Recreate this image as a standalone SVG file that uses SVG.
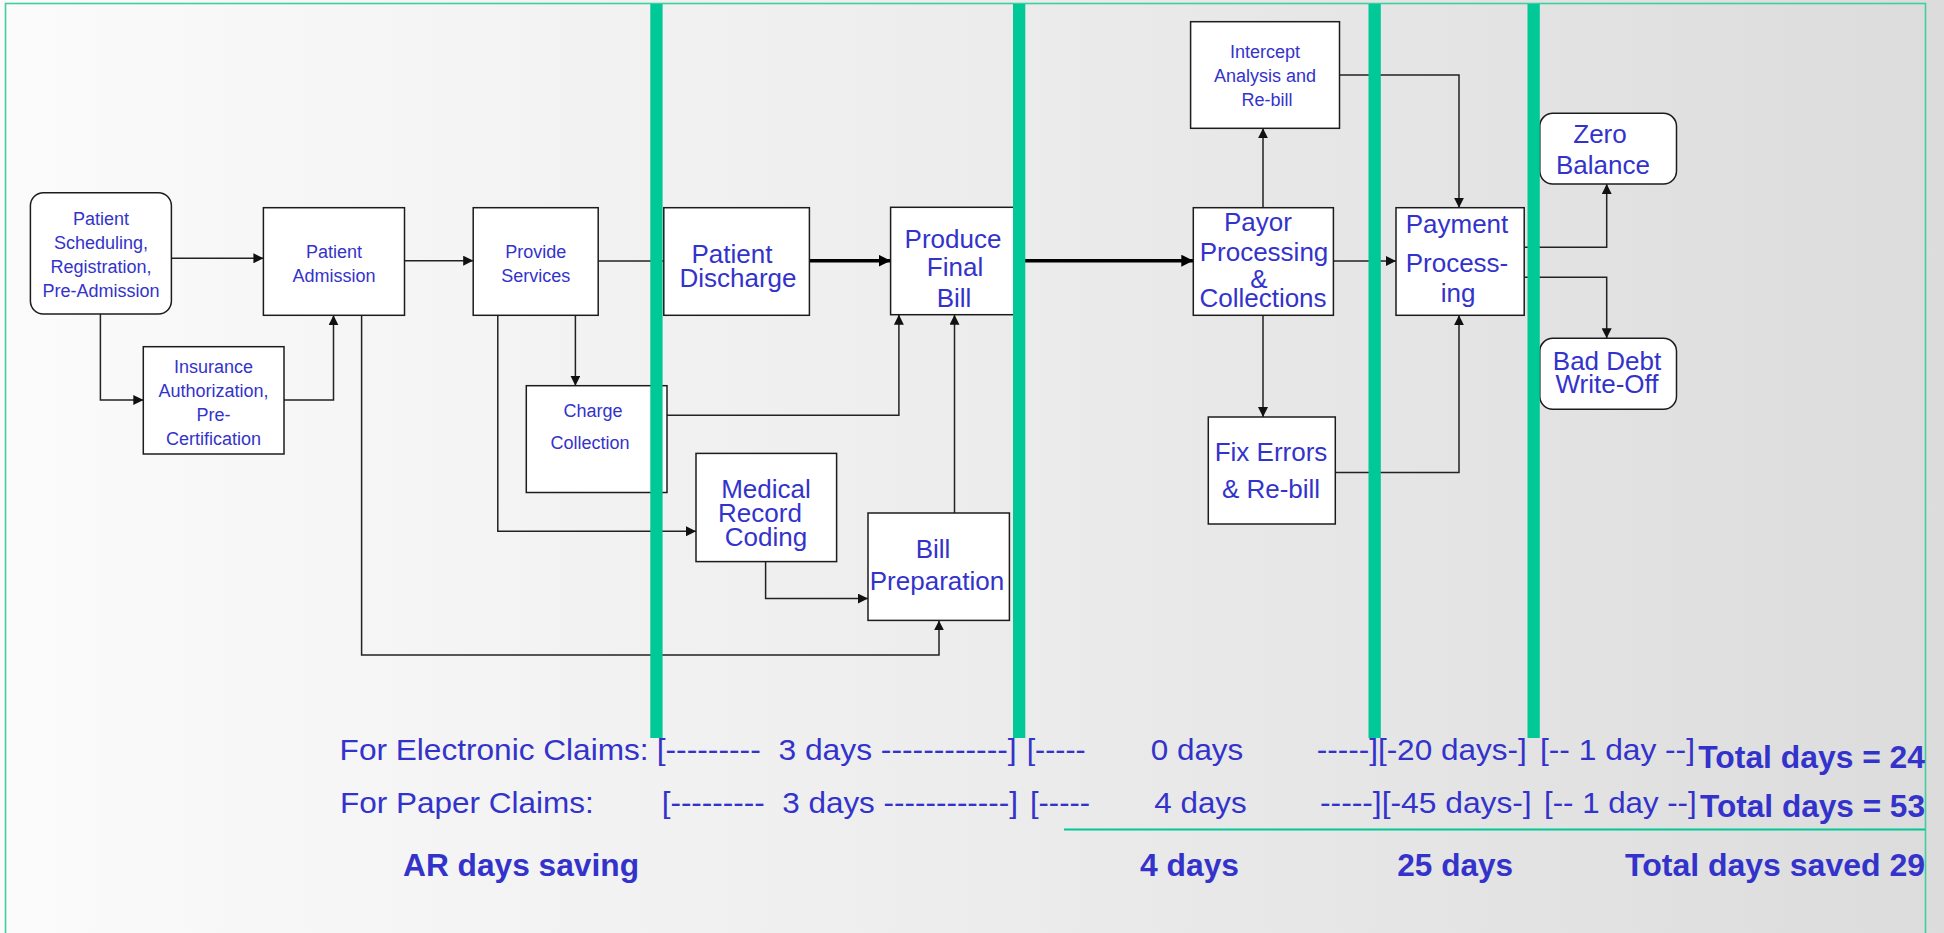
<svg xmlns="http://www.w3.org/2000/svg" width="1944" height="933" viewBox="0 0 1944 933">
  <defs>
    <linearGradient id="bg" x1="0" y1="0" x2="1" y2="0">
      <stop offset="0" stop-color="#fbfbfb"/>
      <stop offset="0.45" stop-color="#eeeeee"/>
      <stop offset="1" stop-color="#dcdcdc"/>
    </linearGradient>
    <marker id="arr" markerUnits="userSpaceOnUse" markerWidth="10" markerHeight="10" viewBox="0 0 9 9" refX="9" refY="4.5" orient="auto">
      <path d="M0,0 L9,4.5 L0,9 z" fill="#111"/>
    </marker>
    <marker id="arrBig" markerUnits="userSpaceOnUse" markerWidth="12" markerHeight="12" viewBox="0 0 11 11" refX="11" refY="5.5" orient="auto">
      <path d="M0,0 L11,5.5 L0,11 z" fill="#000"/>
    </marker>
  </defs>
  <style>
    .box { fill: #ffffff; stroke: #1c1c1c; stroke-width: 1.5; }
    .wire { fill: none; stroke: #222; stroke-width: 1.5; marker-end: url(#arr); }
    .thick { fill: none; stroke: #000; stroke-width: 3.5; marker-end: url(#arrBig); }
    .bar { fill: #00c896; }
    text { font-family: "Liberation Sans", Arial, sans-serif; fill: #3333cc; }
    .s { font-size: 18px; text-anchor: middle; }
    .l { font-size: 26px; text-anchor: middle; }
    .r { font-size: 30px; white-space: pre; }
    .b { font-size: 32px; font-weight: bold; white-space: pre; }
  </style>

  <!-- page background and frame -->
  <rect x="0" y="0" width="1944" height="933" fill="url(#bg)"/>
  <rect x="5.5" y="3.5" width="1920" height="940" fill="none" stroke="#3dcf9f" stroke-width="1.6"/>

  <!-- connectors -->
  <g id="connectors">
    <path class="wire" d="M171.4,258.3 H263.4"/>
    <path class="wire" d="M100.4,314 V400 H143.3"/>
    <path class="wire" d="M284,400 H333.5 V315.3"/>
    <path class="wire" d="M404.5,260.7 H473.2"/>
    <path class="wire" d="M598.2,261 H663.8"/>
    <path class="thick" d="M809.4,260.7 H890.6"/>
    <path class="thick" d="M1010,260.7 H1193.3"/>
    <path class="wire" d="M361.6,315.3 V655 H939 V620.4"/>
    <path class="wire" d="M497.8,315.3 V531.3 H696"/>
    <path class="wire" d="M575.4,315.3 V385.7"/>
    <path class="wire" d="M667,415.3 H898.9 V314.7"/>
    <path class="wire" d="M765.6,561.6 V598.6 H868"/>
    <path class="wire" d="M954.5,513 V314.7"/>
    <path class="wire" d="M1263,207.7 V128.3"/>
    <path class="wire" d="M1263,315.3 V417"/>
    <path class="wire" d="M1333.4,261 H1396"/>
    <path class="wire" d="M1339.5,75 H1459 V207.7"/>
    <path class="wire" d="M1335.3,472.4 H1459 V315.3"/>
    <path class="wire" d="M1524.2,247.3 H1606.7 V184"/>
    <path class="wire" d="M1524.2,277.3 H1606.7 V338.3"/>
  </g>

  <g id="patient-scheduling">
    <rect class="box" x="30.4" y="192.7" width="141" height="121.3" rx="13" ry="13"/>
    <text class="s" x="101" y="225">Patient</text>
    <text class="s" x="101" y="249">Scheduling,</text>
    <text class="s" x="101" y="273">Registration,</text>
    <text class="s" x="101" y="297">Pre-Admission</text>
  </g>

  <g id="patient-admission">
    <rect class="box" x="263.4" y="207.7" width="141.1" height="107.6"/>
    <text class="s" x="334" y="258">Patient</text>
    <text class="s" x="334" y="282">Admission</text>
  </g>

  <g id="insurance-authorization">
    <rect class="box" x="143.3" y="346.7" width="140.7" height="107.3"/>
    <text class="s" x="213.6" y="373">Insurance</text>
    <text class="s" x="213.6" y="397">Authorization,</text>
    <text class="s" x="213.6" y="421">Pre-</text>
    <text class="s" x="213.6" y="445">Certification</text>
  </g>

  <g id="provide-services">
    <rect class="box" x="473.2" y="207.7" width="125" height="107.6"/>
    <text class="s" x="535.7" y="258">Provide</text>
    <text class="s" x="535.7" y="282">Services</text>
  </g>

  <g id="charge-collection">
    <rect class="box" x="526.3" y="385.7" width="140.7" height="106.8"/>
    <text class="s" x="593" y="417">Charge</text>
    <text class="s" x="590" y="449">Collection</text>
  </g>

  <g id="medical-record-coding">
    <rect class="box" x="696" y="453.4" width="140.6" height="108.2"/>
    <text class="l" x="766" y="498">Medical</text>
    <text class="l" x="760" y="522">Record</text>
    <text class="l" x="766" y="546">Coding</text>
  </g>

  <g id="bill-preparation">
    <rect class="box" x="868" y="513" width="141.4" height="107.4"/>
    <text class="l" x="933" y="558">Bill</text>
    <text class="l" x="937" y="590">Preparation</text>
  </g>

  <g id="patient-discharge">
    <rect class="box" x="663.8" y="207.7" width="145.6" height="107.6"/>
    <text class="l" x="732" y="263">Patient</text>
    <text class="l" x="738" y="287">Discharge</text>
  </g>

  <g id="produce-final-bill">
    <rect class="box" x="890.6" y="207.3" width="125.4" height="107.4"/>
    <text class="l" x="953" y="248">Produce</text>
    <text class="l" x="955" y="276">Final</text>
    <text class="l" x="954" y="307">Bill</text>
  </g>

  <g id="intercept-analysis">
    <rect class="box" x="1190.6" y="21.7" width="148.9" height="106.6"/>
    <text class="s" x="1265" y="58">Intercept</text>
    <text class="s" x="1265" y="82">Analysis and</text>
    <text class="s" x="1267" y="106">Re-bill</text>
  </g>

  <g id="payor-processing">
    <rect class="box" x="1193.3" y="207.7" width="140.1" height="107.6"/>
    <text class="l" x="1258" y="231">Payor</text>
    <text class="l" x="1264" y="261">Processing</text>
    <text class="l" x="1259" y="288">&amp;</text>
    <text class="l" x="1263" y="307">Collections</text>
  </g>

  <g id="fix-errors">
    <rect class="box" x="1208.3" y="417" width="127" height="107"/>
    <text class="l" x="1271" y="461">Fix Errors</text>
    <text class="l" x="1271" y="498">&amp; Re-bill</text>
  </g>

  <g id="payment-processing">
    <rect class="box" x="1396" y="207.7" width="128.2" height="107.6"/>
    <text class="l" x="1457" y="233">Payment</text>
    <text class="l" x="1457" y="272">Process-</text>
    <text class="l" x="1458" y="302">ing</text>
  </g>

  <g id="zero-balance">
    <rect class="box" x="1539.8" y="113.3" width="136.7" height="70.7" rx="13" ry="13"/>
    <text class="l" x="1600" y="143">Zero</text>
    <text class="l" x="1603" y="174">Balance</text>
  </g>

  <g id="bad-debt">
    <rect class="box" x="1539.8" y="338.3" width="136.7" height="71" rx="13" ry="13"/>
    <text class="l" x="1607" y="370">Bad Debt</text>
    <text class="l" x="1607" y="393">Write-Off</text>
  </g>

  <!-- stage dividers -->
  <g id="dividers">
    <rect class="bar" x="650.3" y="4" width="12.3" height="734"/>
    <rect class="bar" x="1013" y="4" width="12.3" height="734"/>
    <rect class="bar" x="1368.5" y="4" width="12.3" height="734"/>
    <rect class="bar" x="1527.5" y="4" width="12.3" height="734"/>
  </g>

  <!-- claim timelines -->
  <g id="timeline">
    <text class="r" x="339.6" y="760" textLength="309" lengthAdjust="spacingAndGlyphs">For Electronic Claims:</text>
    <text class="r" x="656.7" y="760" textLength="360" lengthAdjust="spacingAndGlyphs" xml:space="preserve">[---------  3 days ------------]</text>
    <text class="r" x="1026.7" y="760" textLength="59" lengthAdjust="spacingAndGlyphs">[-----</text>
    <text class="r" x="1150.7" y="760" textLength="92.6" lengthAdjust="spacingAndGlyphs">0 days</text>
    <text class="r" x="1316.7" y="760" textLength="210" lengthAdjust="spacingAndGlyphs">-----][-20 days-]</text>
    <text class="r" x="1540" y="760" textLength="155" lengthAdjust="spacingAndGlyphs">[-- 1 day --]</text>
    <text class="b" x="1698.3" y="767.7" textLength="226.7" lengthAdjust="spacingAndGlyphs">Total days = 24</text>

    <text class="r" x="340" y="813.3" textLength="253.8" lengthAdjust="spacingAndGlyphs">For Paper Claims:</text>
    <text class="r" x="661.7" y="813.3" textLength="356.3" lengthAdjust="spacingAndGlyphs" xml:space="preserve">[---------  3 days ------------]</text>
    <text class="r" x="1030" y="813.3" textLength="60" lengthAdjust="spacingAndGlyphs">[-----</text>
    <text class="r" x="1154.3" y="813.3" textLength="92.4" lengthAdjust="spacingAndGlyphs">4 days</text>
    <text class="r" x="1320" y="813.3" textLength="211.7" lengthAdjust="spacingAndGlyphs">-----][-45 days-]</text>
    <text class="r" x="1544" y="813.3" textLength="152.7" lengthAdjust="spacingAndGlyphs">[-- 1 day --]</text>
    <text class="b" x="1700" y="816.7" textLength="225" lengthAdjust="spacingAndGlyphs">Total days = 53</text>

    <line x1="1064" y1="829.5" x2="1925" y2="829.5" stroke="#00c896" stroke-width="2"/>

    <text class="b" x="403" y="876" textLength="236" lengthAdjust="spacingAndGlyphs">AR days saving</text>
    <text class="b" x="1140" y="876" textLength="99" lengthAdjust="spacingAndGlyphs">4 days</text>
    <text class="b" x="1397.3" y="876" textLength="115.7" lengthAdjust="spacingAndGlyphs">25 days</text>
    <text class="b" x="1625" y="876" textLength="300" lengthAdjust="spacingAndGlyphs">Total days saved 29</text>
  </g>
</svg>
